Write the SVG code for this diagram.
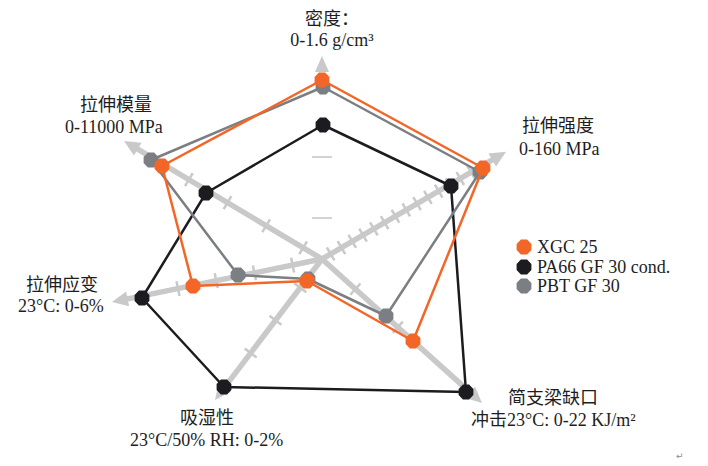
<svg xmlns="http://www.w3.org/2000/svg" xmlns:xlink="http://www.w3.org/1999/xlink" width="708" height="466" viewBox="0 0 708 466">
<style>
  .axis { stroke: #c9c9c9; stroke-width: 5.5; fill: none; }
  .tick { stroke: #c9c9c9; stroke-width: 2.5; fill: none; }
  .dtick { stroke: #c4c4c4; stroke-width: 1.5; fill: none; }
  .head { fill: #c9c9c9; }
  .ser { fill: none; stroke-width: 2.5; stroke-linejoin: round; }
  .lbl { font-family: "Liberation Serif", "Noto Sans CJK SC", serif; font-size: 18px; fill: #1e1e1e; }
  .o { fill: #f26728; }
  .b { fill: #1c1c20; }
  .g { fill: #7b7e82; }
</style>
<defs>
  <polygon id="oct" points="7.4,3.1 3.1,7.4 -3.1,7.4 -7.4,3.1 -7.4,-3.1 -3.1,-7.4 3.1,-7.4 7.4,-3.1"/>
</defs>
<rect width="708" height="466" fill="#fff"/>

<g id="axes">
  <g id="axis-density" transform="translate(322,259) rotate(-90)">
    <polygon class="head" points="203,0 187,-7 187,7"/>
    <line class="dtick" x1="41" y1="-10" x2="41" y2="10"/>
    <line class="dtick" x1="102" y1="-10" x2="102" y2="10"/>
  </g>
  <g id="axis-strength" transform="translate(322,259) rotate(-30.2)">
    <line class="axis" x1="0" y1="0" x2="200" y2="0"/>
    <polygon class="head" points="213,0 197,-7.5 197,7.5"/>
    <path class="tick" d="M10,-7.5V7.5M22.5,-7.5V7.5M35,-7.5V7.5M47.5,-7.5V7.5M60,-7.5V7.5M72.5,-7.5V7.5M85,-7.5V7.5M97.5,-7.5V7.5M110,-7.5V7.5M122.5,-7.5V7.5M135,-7.5V7.5M147.5,-7.5V7.5M160,-7.5V7.5M172.5,-7.5V7.5"/>
  </g>
  <g id="axis-modulus" transform="translate(322,259) rotate(-149.2)">
    <line class="axis" x1="0" y1="0" x2="218" y2="0"/>
    <polygon class="head" points="230.5,0 214.5,-7.5 214.5,7.5"/>
    <path class="tick" d="M22,-7.5V7.5M65,-7.5V7.5M110,-7.5V7.5M155,-7.5V7.5"/>
  </g>
  <g id="axis-strain" transform="translate(322,259) rotate(168.4)">
    <line class="axis" x1="0" y1="0" x2="202" y2="0"/>
    <polygon class="head" points="214.4,0 198.4,-7.5 198.4,7.5"/>
    <path class="tick" d="M30,-7.5V7.5M69,-7.5V7.5M108,-7.5V7.5M147,-7.5V7.5"/>
  </g>
  <g id="axis-moisture" transform="translate(322,259) rotate(127.2)">
    <line class="axis" x1="0" y1="0" x2="165" y2="0"/>
    <polygon class="head" points="177,0 161,-7.5 161,7.5"/>
    <path class="tick" d="M36,-7.5V7.5M77,-7.5V7.5M118,-7.5V7.5"/>
  </g>
  <g id="axis-impact" transform="translate(322,259) rotate(42)">
    <line class="axis" x1="0" y1="0" x2="203" y2="0"/>
    <polygon class="head" points="215.3,0 199.3,-7.5 199.3,7.5"/>
    <path class="tick" d="M45,-7.5V7.5M102,-7.5V7.5"/>
  </g>
</g>

<g id="series-pa66">
  <polygon class="ser" stroke="#1c1c20" points="323,125 451,186 466,392 224,387 142,298 206,193"/>
  <use xlink:href="#oct" href="#oct" class="b" x="323" y="125"/>
  <use xlink:href="#oct" href="#oct" class="b" x="451" y="186"/>
  <use xlink:href="#oct" href="#oct" class="b" x="466" y="392"/>
  <use xlink:href="#oct" href="#oct" class="b" x="224" y="387"/>
  <use xlink:href="#oct" href="#oct" class="b" x="142" y="298"/>
  <use xlink:href="#oct" href="#oct" class="b" x="206" y="193"/>
</g>
<g id="series-pbt">
  <polygon class="ser" stroke="#7b7e82" points="323,87 480,172 386,316 308,279 238,275 151,160"/>
  <use xlink:href="#oct" href="#oct" class="g" x="323" y="87"/>
  <use xlink:href="#oct" href="#oct" class="g" x="480" y="172"/>
  <use xlink:href="#oct" href="#oct" class="g" x="386" y="316"/>
  <use xlink:href="#oct" href="#oct" class="g" x="308" y="279"/>
  <use xlink:href="#oct" href="#oct" class="g" x="238" y="275"/>
  <use xlink:href="#oct" href="#oct" class="g" x="151" y="160"/>
</g>
<g id="series-xgc">
  <polygon class="ser" stroke="#f26728" points="322,80 483,168 413,341 307,281 193,286 162,166"/>
  <use xlink:href="#oct" href="#oct" class="o" x="322" y="80"/>
  <use xlink:href="#oct" href="#oct" class="o" x="483" y="168"/>
  <use xlink:href="#oct" href="#oct" class="o" x="413" y="341"/>
  <use xlink:href="#oct" href="#oct" class="o" x="307" y="281"/>
  <use xlink:href="#oct" href="#oct" class="o" x="193" y="286"/>
  <use xlink:href="#oct" href="#oct" class="o" x="162" y="166"/>
</g>

<g id="labels">
  <g id="label-density">
    <text class="lbl" x="332" y="25" text-anchor="middle">密度：</text>
    <text class="lbl" x="332" y="46" text-anchor="middle">0-1.6 g/cm³</text>
  </g>
  <g id="label-strength">
    <text class="lbl" x="522" y="132">拉伸强度</text>
    <text class="lbl" x="519" y="155">0-160 MPa</text>
  </g>
  <g id="label-modulus">
    <text class="lbl" x="80" y="111">拉伸模量</text>
    <text class="lbl" x="65" y="133">0-11000 MPa</text>
  </g>
  <g id="label-strain">
    <text class="lbl" x="26" y="291">拉伸应变</text>
    <text class="lbl" x="18" y="312">23°C: 0-6%</text>
  </g>
  <g id="label-moisture">
    <text class="lbl" x="180" y="424">吸湿性</text>
    <text class="lbl" x="130" y="446">23°C/50% RH: 0-2%</text>
  </g>
  <g id="label-impact">
    <text class="lbl" x="508" y="404">简支梁缺口</text>
    <text class="lbl" x="471" y="426">冲击23°C: 0-22 KJ/m²</text>
  </g>
</g>

<g id="legend">
  <use xlink:href="#oct" href="#oct" class="o" x="524" y="247"/>
  <text class="lbl" x="537" y="253">XGC 25</text>
  <use xlink:href="#oct" href="#oct" class="b" x="524" y="267"/>
  <text class="lbl" x="537" y="273">PA66 GF 30 cond.</text>
  <use xlink:href="#oct" href="#oct" class="g" x="524" y="286"/>
  <text class="lbl" x="537" y="292">PBT GF 30</text>
</g>
<text x="676" y="459" font-family="DejaVu Sans, sans-serif" font-size="9" fill="#888">↵</text>
</svg>
